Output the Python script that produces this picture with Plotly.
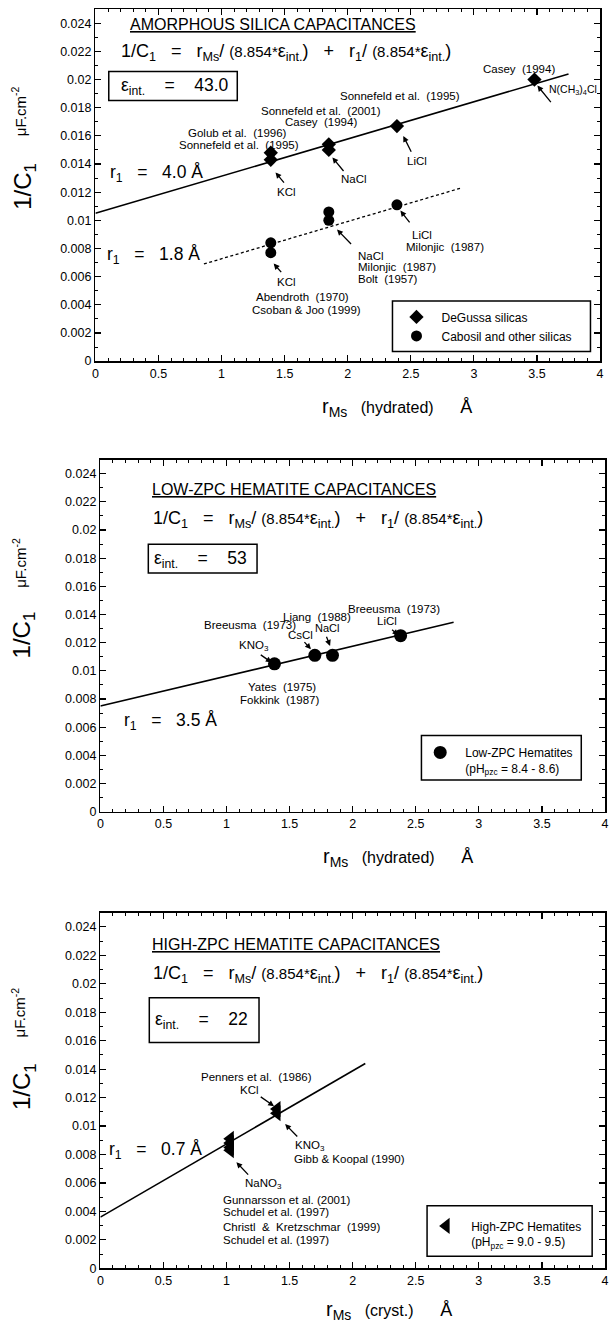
import plotly.graph_objects as go

W, H = 609, 1332
FONT = "Liberation Sans, Arial, Helvetica, sans-serif"

# ---------------- data ----------------
# Panel 1: amorphous silica (hydrated radius)
deg_x = [1.39, 1.39, 1.85, 1.85, 2.39, 3.48]
deg_y = [0.0148, 0.0143, 0.0154, 0.0150, 0.0167, 0.0200]
cab_x = [1.39, 1.39, 1.85, 1.85, 2.39]
cab_y = [0.0084, 0.0077, 0.0106, 0.0100, 0.0111]
fit1_x = [0.0, 3.75]
fit1_y = [0.0105, 0.0204]
fit1b_x = [0.86, 2.90]
fit1b_y = [0.0069, 0.0123]

# Panel 2: low-ZPC hematite (hydrated radius)
low_x = [1.38, 1.70, 1.84, 2.38]
low_y = [0.0105, 0.0111, 0.0111, 0.0125]
fit2_x = [0.0, 2.80]
fit2_y = [0.0075, 0.01345]

# Panel 3: high-ZPC hematite (crystal radius)
high_x = [1.03, 1.03, 1.03, 1.03, 1.40, 1.40]
high_y = [0.0091, 0.0088, 0.0085, 0.0083, 0.0112, 0.0109]
fit3_x = [0.0, 2.10]
fit3_y = [0.0036, 0.0144]

x_tickvals = [0, 0.5, 1, 1.5, 2, 2.5, 3, 3.5, 4]
x_ticktext = ["0", "0.5", "1", "1.5", "2", "2.5", "3", "3.5", "4"]
y_tickvals = [0, 0.002, 0.004, 0.006, 0.008, 0.01, 0.012, 0.014, 0.016, 0.018, 0.02, 0.022, 0.024]
y_ticktext = ["0", "0.002", "0.004", "0.006", "0.008", "0.01", "0.012", "0.014", "0.016",
              "0.018", "0.02", "0.022", "0.024"]

# ---------------- figure ----------------
fig = go.Figure()

def P(x):
    return x / W

def Q(y):
    return 1 - y / H

line_style = dict(color="black", width=1.6)

# panel 1
fig.add_trace(go.Scatter(x=fit1_x, y=fit1_y, mode="lines", line=line_style, showlegend=False,
                         xaxis="x", yaxis="y"))
fig.add_trace(go.Scatter(x=fit1b_x, y=fit1b_y, mode="lines",
                         line=dict(color="black", width=1.3, dash="3px,2.5px"), showlegend=False,
                         xaxis="x", yaxis="y"))
fig.add_trace(go.Scatter(x=deg_x, y=deg_y, mode="markers", name="DeGussa silicas",
                         marker=dict(symbol="diamond", size=11, color="black"),
                         xaxis="x", yaxis="y", legend="legend"))
fig.add_trace(go.Scatter(x=cab_x, y=cab_y, mode="markers", name="Cabosil and other silicas",
                         marker=dict(symbol="circle", size=11, color="black"),
                         xaxis="x", yaxis="y", legend="legend"))
# panel 2
fig.add_trace(go.Scatter(x=fit2_x, y=fit2_y, mode="lines", line=line_style, showlegend=False,
                         xaxis="x2", yaxis="y2"))
fig.add_trace(go.Scatter(x=low_x, y=low_y, mode="markers",
                         name="Low-ZPC Hematites<br>(pH<sub>pzc</sub> = 8.4 - 8.6)",
                         marker=dict(symbol="circle", size=13, color="black"),
                         xaxis="x2", yaxis="y2", legend="legend2"))
# panel 3
fig.add_trace(go.Scatter(x=fit3_x, y=fit3_y, mode="lines", line=line_style, showlegend=False,
                         xaxis="x3", yaxis="y3"))
fig.add_trace(go.Scatter(x=high_x, y=high_y, mode="markers",
                         name="High-ZPC Hematites<br>(pH<sub>pzc</sub> = 9.0 - 9.5)",
                         marker=dict(symbol="triangle-left", size=14, color="black"),
                         xaxis="x3", yaxis="y3", legend="legend3"))


def xaxis(dom, anchor):
    return dict(domain=dom, anchor=anchor, range=[0, 4], showline=True, linecolor="black",
                linewidth=1.5, mirror="ticks", ticks="inside", ticklen=6, tickwidth=1.2,
                tickcolor="black", tickmode="array", tickvals=x_tickvals, ticktext=x_ticktext,
                minor=dict(ticks="inside", ticklen=3, tickwidth=1, tickcolor="black",
                           dtick=0.1, tick0=0, showgrid=False),
                showgrid=False, zeroline=False,
                tickfont=dict(family=FONT, size=12.5, color="black"))


def yaxis(dom, anchor):
    return dict(domain=dom, anchor=anchor, range=[0, 0.025], showline=True, linecolor="black",
                linewidth=1.5, mirror="ticks", ticks="inside", ticklen=6, tickwidth=1.2,
                tickcolor="black", tickmode="array", tickvals=y_tickvals, ticktext=y_ticktext,
                minor=dict(ticks="inside", ticklen=3, tickwidth=1, tickcolor="black",
                           dtick=0.001, tick0=0, showgrid=False),
                showgrid=False, zeroline=False,
                tickfont=dict(family=FONT, size=12.5, color="black"))


fig.update_layout(
    width=W, height=H, margin=dict(l=0, r=0, t=0, b=0),
    paper_bgcolor="white", plot_bgcolor="white",
    xaxis=xaxis([P(93.5), P(604)], "y"),
    yaxis=yaxis([Q(363), Q(9.25)], "x"),
    xaxis2=xaxis([P(98.5), 1.0], "y2"),
    yaxis2=yaxis([Q(816), Q(462)], "x2"),
    xaxis3=xaxis([P(98.5), 1.0], "y3"),
    yaxis3=yaxis([Q(1275), Q(917.5)], "x3"),
    legend=dict(x=P(393), y=Q(304), xanchor="left", yanchor="top", bgcolor="rgba(0,0,0,0)",
                borderwidth=0, itemwidth=40, font=dict(family=FONT, size=12, color="black")),
    legend2=dict(x=P(417), y=Q(742), xanchor="left", yanchor="top", bgcolor="rgba(0,0,0,0)",
                 borderwidth=0, itemwidth=40, valign="top",
                 font=dict(family=FONT, size=12, color="black")),
    legend3=dict(x=P(423), y=Q(1218), xanchor="left", yanchor="top", bgcolor="rgba(0,0,0,0)",
                 borderwidth=0, itemwidth=40, valign="top",
                 font=dict(family=FONT, size=12, color="black")),
    showlegend=True,
)

ann = []
shapes = []
NB = "\u00a0"


def label(text, x, y, size=11.5, xanchor="center"):
    ann.append(dict(text=text, x=P(x), y=Q(y), xref="paper", yref="paper", showarrow=False,
                    xanchor=xanchor, yanchor="middle",
                    font=dict(family=FONT, size=size, color="black")))


def arrow(hx, hy, tx, ty):
    ann.append(dict(text="", x=P(hx), y=Q(hy), xref="paper", yref="paper", showarrow=True,
                    ax=tx - hx, ay=ty - hy, arrowhead=2, arrowsize=0.9, arrowwidth=1.3,
                    arrowcolor="black", standoff=0, startstandoff=0))


def box(x0, y0, x1, y1):
    shapes.append(dict(type="rect", xref="paper", yref="paper", x0=P(x0), x1=P(x1),
                       y0=Q(y0), y1=Q(y1), line=dict(color="black", width=1.5)))


eps = "ε<sub>int.</sub>"
sm = "<span style='font-size:15px'>(8.854*</span>"
equation = ("1/C<sub>1</sub>" + NB * 3 + "=" + NB * 3 + "r<sub>Ms</sub>/" + NB + sm + eps + ")"
            + NB * 3 + "+" + NB * 3 + "r<sub>1</sub>/" + NB + sm + eps + ")")
ytitle_big = "1/C<sub>1</sub>"
ytitle_small = "μF.cm<sup>-2</sup>"
S2 = NB + " "


def xtitle(kind, cx, cy):
    t = ("<span style='font-size:20px'>r<sub>Ms</sub></span>" + NB * 3 + kind + NB * 6 +
         "<span style='font-size:18px'>Å</span>")
    label(t, cx, cy, size=16)


def ytitle(cy_big, cy_small):
    ann.append(dict(text=ytitle_big, x=P(21), y=Q(cy_big), xref="paper", yref="paper",
                    showarrow=False, textangle=-90, xanchor="center", yanchor="middle",
                    font=dict(family=FONT, size=24, color="black")))
    ann.append(dict(text=ytitle_small, x=P(16), y=Q(cy_small), xref="paper", yref="paper",
                    showarrow=False, textangle=-90, xanchor="center", yanchor="middle",
                    font=dict(family=FONT, size=15, color="black")))


TS = 16   # panel title size
ES = 18   # equation size

# ---- panel 1 text ----
label("<u>AMORPHOUS SILICA CAPACITANCES</u>", 126, 25, size=TS, xanchor="left")
label(equation, 117, 53, size=ES, xanchor="left")
box(107, 72, 237, 101)
label(eps + NB * 4 + "=" + NB * 4 + "43.0", 117, 87, size=17.5, xanchor="left")
label("Casey" + S2 + "(1994)", 522, 69)
label("N(CH<sub>3</sub>)<sub>4</sub>Cl", 577, 90, size=10.5)
arrow(540.6, 86, 555.3, 104)
label("Sonnefeld et al." + S2 + "(1995)", 402, 97)
label("Sonnefeld et al." + S2 + "(2001)", 322, 112)
label("Casey" + S2 + "(1994)", 322, 123)
label("Golub et al." + S2 + "(1996)", 237, 134)
label("Sonnefeld et al." + S2 + "(1995)", 239, 146)
label("r<sub>1</sub>" + NB * 3 + "=" + NB * 3 + "4.0 Å", 106, 174, size=17.5, xanchor="left")
label("KCl", 287, 193)
arrow(275.7, 173.3, 285.4, 185)
label("NaCl", 355, 180)
arrow(333.2, 158.3, 345.6, 173.3)
label("LiCl", 419, 162)
arrow(405, 136.7, 413.6, 154)
label("r<sub>1</sub>" + NB * 3 + "=" + NB * 3 + "1.8 Å", 103, 257, size=17.5, xanchor="left")
label("KCl", 287, 283)
arrow(273.8, 265, 282.7, 275)
label("Abendroth" + S2 + "(1970)", 303, 299)
label("Csoban & Joo (1999)", 307, 312)
label("NaCl", 357, 257, xanchor="left")
label("Milonjic" + S2 + "(1987)", 357, 268, xanchor="left")
label("Bolt" + S2 + "(1957)", 357, 280, xanchor="left")
arrow(337.9, 230.7, 353.4, 246.7)
label("LiCl", 412, 236, xanchor="left")
label("Milonjic" + S2 + "(1987)", 406, 248, xanchor="left")
arrow(402, 211.7, 412.4, 225)
box(394, 302.7, 594.3, 353.3)
xtitle("(hydrated)", 399, 410)
ytitle(187, 112)

# ---- panel 2 text ----
label("<u>LOW-ZPC HEMATITE CAPACITANCES</u>", 149, 492, size=TS, xanchor="left")
label(equation, 150, 522, size=ES, xanchor="left")
box(147, 547, 257, 576)
label(eps + NB * 4 + "=" + NB * 4 + "53", 151, 562, size=17.5, xanchor="left")
label("Breeusma" + S2 + "(1973)", 396, 612)
label("Liang" + S2 + "(1988)", 318, 620)
label("LiCl", 388, 624)
label("Breeusma" + S2 + "(1973)", 250, 628)
label("NaCl", 328, 631, size=11)
label("CsCl", 301, 638)
label("KNO<sub>3</sub>", 254, 649)
arrow(271.8, 666, 259.4, 657.3)
arrow(311.5, 652.7, 303.7, 644)
arrow(330.9, 649.3, 326.7, 638.7)
arrow(400, 638.7, 392.2, 631.7)
label("Yates" + S2 + "(1975)", 282, 691)
label("Fokkink" + S2 + "(1987)", 280, 704)
label("r<sub>1</sub>" + NB * 3 + "=" + NB * 3 + "3.5 Å", 120, 725, size=17.5, xanchor="left")
box(423.3, 739.3, 585, 784)
xtitle("(hydrated)", 400, 862)
ytitle(638, 566)

# ---- panel 3 text ----
label("<u>HIGH-ZPC HEMATITE CAPACITANCES</u>", 149, 949, size=TS, xanchor="left")
label(equation, 150, 980, size=ES, xanchor="left")
box(148, 1003, 259, 1048)
label(eps + NB * 4 + "=" + NB * 4 + "22", 152, 1026, size=17.5, xanchor="left")
label("Penners et al." + S2 + "(1986)", 256, 1083)
label("KCl", 249, 1096)
arrow(274.2, 1112, 259.4, 1101.7)
arrow(285.4, 1130, 299, 1144)
label("KNO<sub>3</sub>", 311, 1152)
label("Gibb & Koopal (1990)", 292, 1165, xanchor="left")
label("r<sub>1</sub>" + NB * 3 + "=" + NB * 3 + "0.7 Å", 105, 1157, size=17.5, xanchor="left")
arrow(236.1, 1168.3, 249.3, 1182.3)
label("NaNO<sub>3</sub>", 264, 1190)
label("Gunnarsson et al. (2001)", 221, 1206, xanchor="left")
label("Schudel et al. (1997)", 221, 1218, xanchor="left")
label("Christl" + S2 + "&" + S2 + "Kretzschmar" + S2 + "(1999)", 221, 1233, xanchor="left")
label("Schudel et al. (1997)", 221, 1247, xanchor="left")
box(429, 1212, 596, 1263)
xtitle("(cryst.)", 390, 1317)
ytitle(1092, 1018)

fig.update_layout(annotations=ann, shapes=shapes)
fig.write_html("out.html", include_plotlyjs=True, full_html=True,
               config={"displayModeBar": False, "staticPlot": True})
